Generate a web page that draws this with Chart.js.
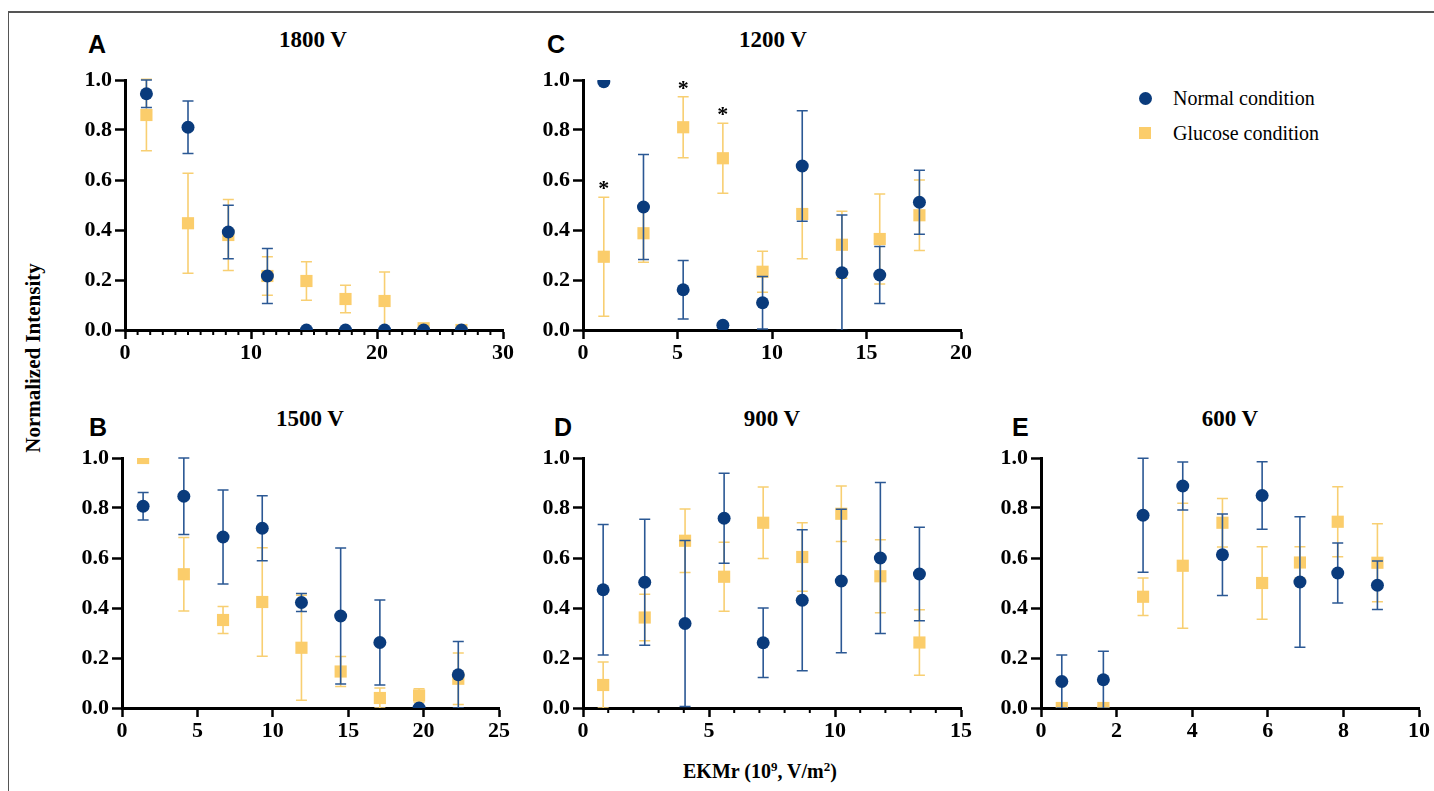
<!DOCTYPE html>
<html>
<head>
<meta charset="utf-8">
<script src="https://cdn.jsdelivr.net/npm/chart.js@4.4.1/dist/chart.umd.min.js"></script>
<style>
html,body{margin:0;padding:0;background:#fff;}
body{width:1434px;height:791px;position:relative;overflow:hidden;}
.frame{position:absolute;left:8px;top:11px;width:1430px;height:790px;border-left:1.5px solid #555;border-top:2px solid #555;}
.wrap{position:absolute;}
.letter{position:absolute;font-family:'Liberation Sans',Arial,sans-serif;font-weight:bold;font-size:25px;line-height:1;transform:translate(0,-50%);}
.title{position:absolute;font-family:'Liberation Serif','Times New Roman',serif;font-weight:bold;font-size:23px;line-height:1;transform:translate(-50%,-50%);white-space:nowrap;}
.axtitle{position:absolute;font-family:'Liberation Serif','Times New Roman',serif;font-weight:bold;font-size:21px;line-height:1;white-space:nowrap;}
.legend{position:absolute;font-family:'Liberation Serif','Times New Roman',serif;font-size:20px;line-height:1;white-space:nowrap;transform:translate(0,-50%);}
.mk{position:absolute;}
</style>
</head>
<body>
<div class="frame"></div>

<div class="letter" style="left:88px;top:44px;">A</div>
<div class="letter" style="left:547px;top:44px;">C</div>
<div class="letter" style="left:89px;top:427px;">B</div>
<div class="letter" style="left:554px;top:427px;">D</div>
<div class="letter" style="left:1012px;top:427px;">E</div>

<div class="title" style="left:313px;top:39px;">1800 V</div>
<div class="title" style="left:773px;top:39px;">1200 V</div>
<div class="title" style="left:310px;top:418px;">1500 V</div>
<div class="title" style="left:772px;top:418px;">900 V</div>
<div class="title" style="left:1230px;top:418px;">600 V</div>

<div class="axtitle" style="left:33px;top:358px;transform:translate(-50%,-50%) rotate(-90deg);">Normalized Intensity</div>
<div class="axtitle" style="left:760px;top:770px;transform:translate(-50%,-50%);font-size:20px;">EKMr (10<sup style="font-size:13px;vertical-align:7px;">9</sup>, V/m<sup style="font-size:13px;vertical-align:7px;">2</sup>)</div>

<div class="mk" style="left:1139px;top:92px;width:13px;height:13px;border-radius:50%;background:#0a3b7c;"></div>
<div class="legend" style="left:1173px;top:98px;">Normal condition</div>
<div class="mk" style="left:1139px;top:127px;width:12px;height:12px;background:#fbcd6b;"></div>
<div class="legend" style="left:1173px;top:133px;">Glucose condition</div>

<div class="wrap" id="wA"><canvas id="cA"></canvas></div>
<div class="wrap" id="wB"><canvas id="cB"></canvas></div>
<div class="wrap" id="wC"><canvas id="cC"></canvas></div>
<div class="wrap" id="wD"><canvas id="cD"></canvas></div>
<div class="wrap" id="wE"><canvas id="cE"></canvas></div>

<script>
// ---------- Data ----------
// Panel A — 1800 V
const xA = [1.7, 5.0, 8.2, 11.3, 14.4, 17.5, 20.6, 23.7, 26.7];
const normA = [0.945, 0.811, 0.392, 0.216, 0, 0, 0, 0, 0];
const normErrA = [0.055, 0.105, 0.107, 0.11, 0, 0, 0, 0, 0];
const gluA = [0.86, 0.427, 0.38, 0.216, 0.196, 0.124, 0.116, 0.007, 0];
const gluErrA = [0.143, 0.2, 0.142, 0.077, 0.077, 0.055, 0.116, 0.01, 0];

// Panel B — 1500 V
const xB = [1.4, 4.1, 6.7, 9.3, 11.9, 14.5, 17.1, 19.7, 22.3];
const normB = [0.807, 0.847, 0.684, 0.719, 0.422, 0.368, 0.262, 0, 0.133];
const normErrB = [0.055, 0.153, 0.188, 0.13, 0.036, 0.272, 0.17, 0, 0.133];
const gluB = [1.0, 0.535, 0.352, 0.424, 0.241, 0.146, 0.04, 0.05, 0.117];
const gluErrB = [0, 0.147, 0.054, 0.217, 0.21, 0.06, 0.04, 0.027, 0.103];

// Panel C — 1200 V
const xC = [1.1, 3.2, 5.3, 7.4, 9.5, 11.6, 13.7, 15.7, 17.8];
const normC = [0.993, 0.492, 0.161, 0.019, 0.109, 0.656, 0.229, 0.22, 0.511];
const normErrC = [0, 0.21, 0.117, 0, 0.105, 0.221, 0.231, 0.114, 0.128];
const gluC = [0.293, 0.387, 0.811, 0.687, 0.233, 0.464, 0.341, 0.364, 0.459];
const gluErrC = [0.238, 0.116, 0.122, 0.14, 0.082, 0.179, 0.134, 0.18, 0.141];
const sigC = [true, false, true, true, false, false, false, false, false];

// Panel D — 900 V
const xD = [0.8, 2.45, 4.05, 5.6, 7.15, 8.7, 10.25, 11.8, 13.35];
const normD = [0.473, 0.503, 0.338, 0.759, 0.261, 0.431, 0.508, 0.6, 0.536];
const normErrD = [0.261, 0.252, 0.332, 0.18, 0.139, 0.282, 0.287, 0.302, 0.187];
const gluD = [0.092, 0.362, 0.669, 0.525, 0.741, 0.604, 0.777, 0.527, 0.262];
const gluErrD = [0.092, 0.093, 0.127, 0.138, 0.143, 0.137, 0.111, 0.146, 0.131];

// Panel E — 600 V
const xE = [0.55, 1.65, 2.7, 3.75, 4.8, 5.85, 6.85, 7.85, 8.9];
const normE = [0.106, 0.113, 0.771, 0.888, 0.613, 0.85, 0.504, 0.54, 0.491];
const normErrE = [0.106, 0.114, 0.228, 0.096, 0.163, 0.135, 0.261, 0.12, 0.097];
const gluE = [0, 0, 0.445, 0.569, 0.741, 0.5, 0.582, 0.745, 0.581];
const gluErrE = [0, 0, 0.075, 0.25, 0.097, 0.145, 0.063, 0.14, 0.156];

const yTicks = [0, 0.2, 0.4, 0.6, 0.8, 1.0];
const seriesNames = ['Normal condition', 'Glucose condition'];

// ---------- Styles ----------
const BLUE = '#0a3b7c';
const BLUE_ERR = '#2b5894';
const YEL = '#fbcd6b';
const YEL_ERR = '#f8cf72';
Chart.defaults.font.family = "'Liberation Serif', serif";
Chart.defaults.font.size = 22;
Chart.defaults.font.weight = 'bold';
Chart.defaults.color = '#000';

// ---------- Plugins ----------
const errorBars = {
  id: 'errorBars',
  beforeDatasetDraw(chart, args) {
    const ds = chart.data.datasets[args.index];
    if (!ds.errors) return;
    const xS = chart.scales.x, yS = chart.scales.y, ctx = chart.ctx, ca = chart.chartArea;
    ctx.save();
    ctx.beginPath();
    ctx.rect(ca.left - 20, ca.top - 20, ca.right - ca.left + 40, ca.bottom - ca.top + 20);
    ctx.clip();
    ctx.strokeStyle = ds.errorColor;
    ctx.lineWidth = 1.6;
    ds.data.forEach((p, i) => {
      const e = ds.errors[i];
      if (!e) return;
      const px = xS.getPixelForValue(p.x);
      const top = yS.getPixelForValue(p.y + e);
      const bot = yS.getPixelForValue(p.y - e);
      ctx.beginPath();
      ctx.moveTo(px, top); ctx.lineTo(px, bot);
      ctx.moveTo(px - 5.5, top); ctx.lineTo(px + 5.5, top);
      ctx.moveTo(px - 5.5, bot); ctx.lineTo(px + 5.5, bot);
      ctx.stroke();
    });
    ctx.restore();
  }
};

const minorTicks = {
  id: 'minorTicks',
  beforeDatasetsDraw(chart, args, opts) {
    if (!opts || !opts.step) return;
    const xS = chart.scales.x, ctx = chart.ctx, y0 = chart.chartArea.bottom;
    ctx.save();
    ctx.strokeStyle = '#000';
    ctx.lineWidth = 2;
    for (let k = 0; ; k++) {
      const v = xS.min + k * opts.step;
      if (v > xS.max + 1e-9) break;
      const r = v / opts.major;
      if (Math.abs(r - Math.round(r)) < 1e-6) continue;
      const px = xS.getPixelForValue(v);
      ctx.beginPath(); ctx.moveTo(px, y0); ctx.lineTo(px, y0 + opts.len); ctx.stroke();
    }
    ctx.restore();
  }
};

const signif = {
  id: 'signif',
  afterDatasetsDraw(chart, args, opts) {
    if (!opts || !opts.flags) return;
    const ds = chart.data.datasets[1];
    const xS = chart.scales.x, yS = chart.scales.y, ctx = chart.ctx;
    ctx.save();
    ctx.fillStyle = '#000';
    ctx.font = "bold 22px 'Liberation Serif', serif";
    ctx.textAlign = 'center';
    ctx.textBaseline = 'alphabetic';
    opts.flags.forEach((f, i) => {
      if (!f) return;
      const p = ds.data[i];
      const px = xS.getPixelForValue(p.x);
      const py = yS.getPixelForValue(p.y + (ds.errors[i] || 0));
      ctx.fillText('*', px, py - 2);
    });
    ctx.restore();
  }
};

// ---------- Panel builder ----------
const YW = 60, XH = 45, PT = 20, PR = 14;
function zeroPad(s) { s.paddingLeft = 0; s.paddingRight = 0; s.paddingTop = 0; s.paddingBottom = 0; }
const tickFont = {family: "'Liberation Serif', serif", weight: 'bold', size: 22};

function makePanel(key, area, xMax, xStep, minor, xs, norm, normErr, glu, gluErr, sig) {
  const w = (area.r - area.l) + YW + PR;
  const h = (area.b - area.t) + PT + XH;
  const wrap = document.getElementById('w' + key);
  wrap.style.left = (area.l - YW) + 'px';
  wrap.style.top = (area.t - PT) + 'px';
  wrap.style.width = w + 'px';
  wrap.style.height = h + 'px';
  const cv = document.getElementById('c' + key);
  cv.width = w; cv.height = h;
  cv.style.width = w + 'px'; cv.style.height = h + 'px';

  new Chart(cv, {
    type: 'scatter',
    data: {
      datasets: [
        {
          label: seriesNames[0],
          data: xs.map((x, i) => ({x: x, y: norm[i]})),
          errors: normErr,
          errorColor: BLUE_ERR,
          pointStyle: 'circle',
          pointRadius: 6.5,
          pointBorderWidth: 0,
          backgroundColor: BLUE,
          borderColor: BLUE
        },
        {
          label: seriesNames[1],
          data: xs.map((x, i) => ({x: x, y: glu[i]})),
          errors: gluErr,
          errorColor: YEL_ERR,
          pointStyle: 'rect',
          pointRadius: 8.6,
          pointBorderWidth: 0,
          backgroundColor: YEL,
          borderColor: YEL
        }
      ]
    },
    options: {
      responsive: false,
      animation: false,
      events: [],
      devicePixelRatio: 1,
      layout: {padding: {top: PT, right: PR, left: 0, bottom: 0}},
      plugins: {
        legend: {display: false},
        tooltip: {enabled: false},
        minorTicks: minor ? {step: minor, major: xStep, len: 5} : {},
        signif: sig ? {flags: sig} : {}
      },
      scales: {
        x: {
          type: 'linear',
          min: 0, max: xMax,
          afterFit(s) { s.height = XH; zeroPad(s); },
          border: {display: true, color: '#000', width: 3},
          grid: {display: true, drawOnChartArea: false, drawTicks: true, tickLength: 9, tickWidth: 2.5, tickColor: '#000', color: '#000'},
          ticks: {stepSize: xStep, autoSkip: false, maxRotation: 0, color: '#000', font: tickFont, padding: 1}
        },
        y: {
          type: 'linear',
          min: 0, max: 1,
          afterBuildTicks(s) { s.ticks = yTicks.map(v => ({value: v})); },
          afterFit(s) { s.width = YW; zeroPad(s); },
          border: {display: true, color: '#000', width: 3},
          grid: {display: true, drawOnChartArea: false, drawTicks: true, tickLength: 10, tickWidth: 2.5, tickColor: '#000', color: '#000'},
          ticks: {color: '#000', font: tickFont, padding: 3, callback: v => Number(v).toFixed(1)}
        }
      }
    },
    plugins: [errorBars, minorTicks, signif]
  });
}

makePanel('A', {l: 125, t: 80, r: 503, b: 330}, 30, 10, 1, xA, normA, normErrA, gluA, gluErrA, null);
makePanel('C', {l: 583, t: 80, r: 961, b: 330}, 20, 5, 0, xC, normC, normErrC, gluC, gluErrC, sigC);
makePanel('B', {l: 122, t: 458, r: 499, b: 708}, 25, 5, 0, xB, normB, normErrB, gluB, gluErrB, null);
makePanel('D', {l: 583, t: 458, r: 961, b: 708}, 15, 5, 1, xD, normD, normErrD, gluD, gluErrD, null);
makePanel('E', {l: 1041, t: 458, r: 1419, b: 708}, 10, 2, 0, xE, normE, normErrE, gluE, gluErrE, null);
</script>
</body>
</html>
